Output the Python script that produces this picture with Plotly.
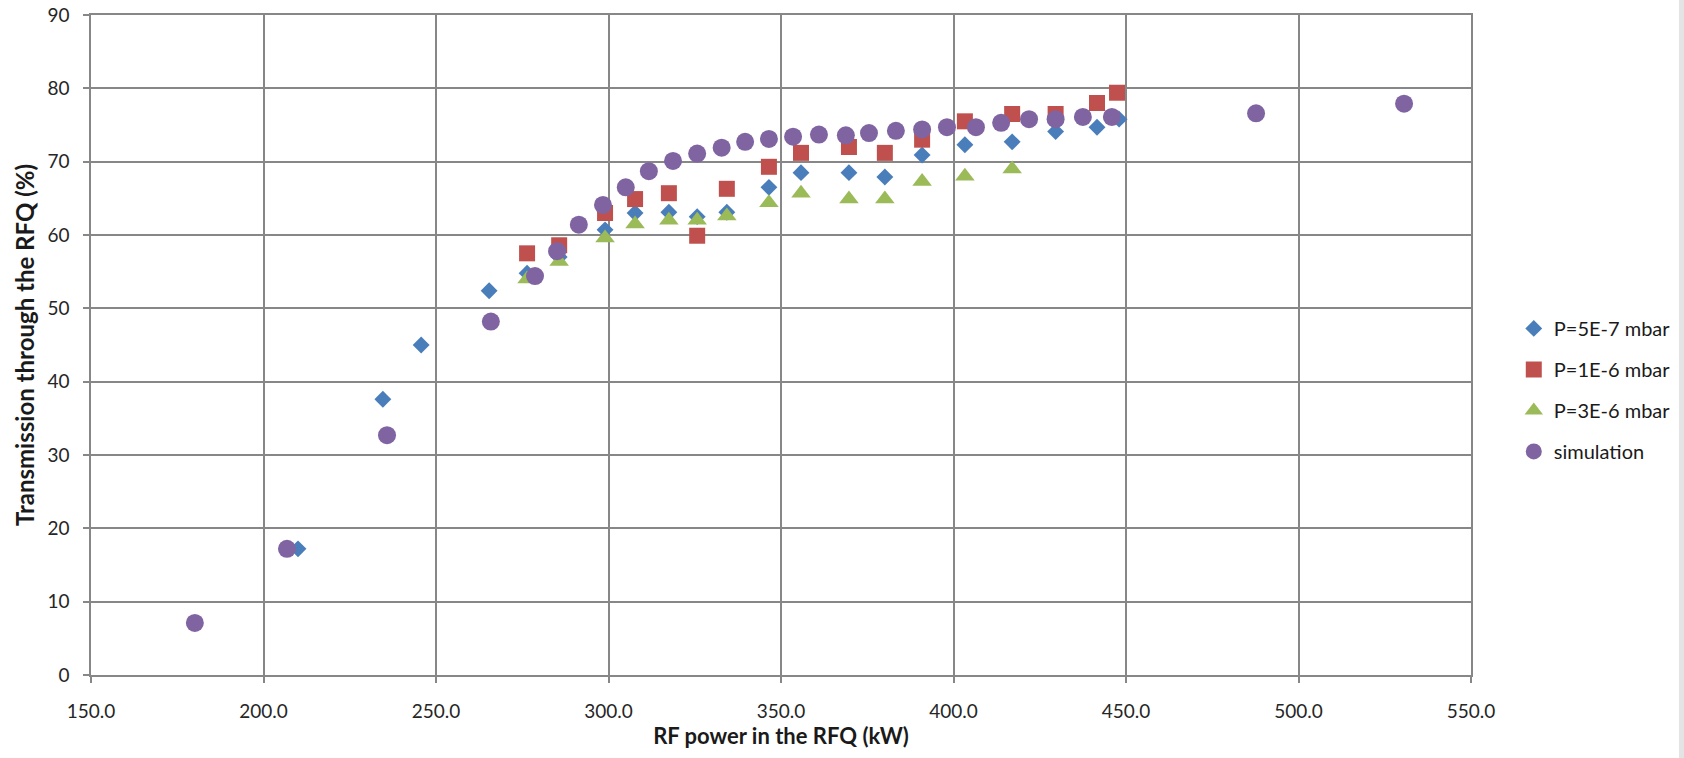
import plotly.graph_objects as go

# ---- data ----
x_p5e7 = [210.0, 234.6, 245.7, 265.4, 276.4, 285.7, 299.0, 307.7, 317.5, 325.7, 334.3,
          346.5, 355.8, 369.7, 380.1, 390.9, 403.3, 417.0, 429.6, 441.6, 448.0]
y_p5e7 = [17.2, 37.6, 45.0, 52.4, 54.8, 57.0, 60.7, 63.0, 63.1, 62.5, 63.1,
          66.5, 68.5, 68.5, 67.9, 70.9, 72.3, 72.7, 74.1, 74.7, 75.8]

x_p1e6 = [276.4, 285.7, 299.0, 307.7, 317.5, 325.7, 334.3, 346.5, 355.8, 369.7, 380.1,
          390.9, 403.3, 417.0, 429.6, 441.6, 447.4]
y_p1e6 = [57.5, 58.6, 63.0, 64.9, 65.7, 59.9, 66.3, 69.3, 71.2, 72.0, 71.2,
          73.0, 75.5, 76.5, 76.5, 78.0, 79.4]

x_p3e6 = [276.4, 285.7, 299.0, 307.7, 317.5, 325.7, 334.3, 346.5, 355.8, 369.7, 380.1,
          390.9, 403.3, 417.0]
y_p3e6 = [54.0, 56.4, 59.6, 61.5, 62.0, 62.0, 62.6, 64.4, 65.7, 64.9, 64.9,
          67.3, 68.0, 69.0]

x_sim = [180.1, 206.8, 235.8, 265.9, 278.7, 285.1, 291.4, 298.4, 305.0, 311.7, 318.7,
         325.7, 332.8, 339.6, 346.5, 353.5, 361.0, 368.8, 375.5, 383.3, 390.9, 398.1,
         406.5, 413.8, 421.9, 429.6, 437.5, 445.9, 487.7, 530.6]
y_sim = [7.1, 17.2, 32.7, 48.2, 54.4, 57.8, 61.4, 64.1, 66.5, 68.7, 70.1,
         71.1, 71.9, 72.7, 73.1, 73.4, 73.7, 73.6, 73.9, 74.2, 74.4, 74.7,
         74.7, 75.3, 75.8, 75.8, 76.1, 76.1, 76.6, 77.9]

names = ["P=5E-7 mbar", "P=1E-6 mbar", "P=3E-6 mbar", "simulation"]
x_ticks = [150, 200, 250, 300, 350, 400, 450, 500, 550]
y_ticks = [0, 10, 20, 30, 40, 50, 60, 70, 80, 90]

FONT = "Lato, Calibri, 'DejaVu Sans', sans-serif"
GRID = "#878787"

fig = go.Figure()
series = [
    (x_p5e7, y_p5e7, "diamond", 13, "#4A7EBB"),
    (x_p1e6, y_p1e6, "square", 16, "#C0504D"),
    (x_p3e6, y_p3e6, "triangle-up", 17, "#9BBB59"),
    (x_sim, y_sim, "circle", 18, "#8064A2"),
]
for i, (xs, ys, sym, sz, col) in enumerate(series):
    fig.add_trace(go.Scatter(
        x=xs, y=ys, mode="markers", name=names[i], legendgroup=f"g{i}",
        marker=dict(symbol=sym, size=sz, color=col, line=dict(width=0)),
    ))

fig.update_layout(
    width=1684, height=758, autosize=False,
    margin=dict(l=91, r=213, t=15, b=83, autoexpand=False),
    paper_bgcolor="white", plot_bgcolor="white",
    font=dict(family=FONT, color="#262626"),
    showlegend=True,
    legend=dict(
        x=1.031, xanchor="left", y=0.432, yanchor="middle",
        font=dict(family=FONT, size=20, color="#1a1a1a"),
        itemwidth=30, tracegroupgap=12, bgcolor="rgba(0,0,0,0)",
        itemsizing="trace",
    ),
    shapes=[dict(type="rect", xref="paper", yref="paper",
                 x0=1.1507, x1=1.16, y0=-0.13, y1=1.03,
                 fillcolor="#e4e4e4", line=dict(width=0), layer="below")],
)

fig.update_xaxes(
    range=[150, 550], tickvals=x_ticks, ticktext=[f"{v:.1f}" for v in x_ticks],
    showgrid=True, gridcolor=GRID, gridwidth=1.5,
    showline=True, linecolor=GRID, linewidth=1.5, mirror=True,
    ticks="outside", ticklen=6, tickcolor=GRID, tickwidth=1.5,
    tickfont=dict(family=FONT, size=19, color="#262626"),
    ticklabelstandoff=12, zeroline=False, automargin=False,
    title=dict(text="<b>RF power in the RFQ (kW)</b>",
               font=dict(family=FONT, size=22, color="#1a1a1a"), standoff=8),
)
fig.update_yaxes(
    range=[0, 90], tickvals=y_ticks,
    showgrid=True, gridcolor=GRID, gridwidth=1.5,
    showline=True, linecolor=GRID, linewidth=1.5, mirror=True,
    ticks="outside", ticklen=6, tickcolor=GRID, tickwidth=1.5,
    tickfont=dict(family=FONT, size=19, color="#262626"),
    ticklabelstandoff=10, zeroline=False, automargin=False,
    title=dict(text="<b>Transmission through the RFQ (%)</b>",
               font=dict(family=FONT, size=24, color="#1a1a1a"), standoff=6),
)

fig.write_html("out.html")
